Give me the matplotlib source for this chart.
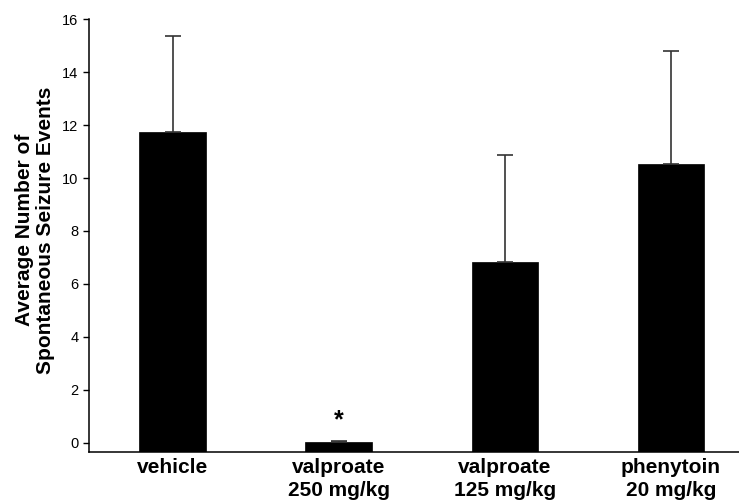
import matplotlib
matplotlib.use("Agg")
import matplotlib.pyplot as plt
import numpy as np

plt.rcParams['font.family'] = ['Liberation Sans', 'DejaVu Sans']

# data
groups = ["vehicle", "valproate\n250 mg/kg", "valproate\n125 mg/kg", "phenytoin\n20 mg/kg"]
means = [11.72, 0.02, 6.82, 10.51]
sem = [3.64, 0.04, 4.05, 4.29]
marks = ["", "*", "", ""]

fig = plt.figure(figsize=(7.39, 5.03), dpi=100)
ax = fig.add_axes([0.1204, 0.1014, 0.8796, 0.8608])

x = np.arange(len(groups))
ybot = -0.34
heights = [m - ybot for m in means]
ax.bar(x, heights, bottom=ybot, width=0.4, color="black", edgecolor="black", linewidth=0.5)
ax.errorbar(x, means, yerr=[np.zeros(len(sem)), sem], fmt="none", ecolor="#333333",
            elinewidth=1.2, capsize=5.8, capthick=1.2)

for xi, m, s, t in zip(x, means, sem, marks):
    if t:
        ax.text(xi, m + s + 0.78, t, ha="center", va="center", fontsize=18, fontweight="bold")

ax.set_xlim(-0.503, 3.41)
ax.set_ylim(ybot, 16)
ax.set_yticks(np.arange(0, 17, 2))
ax.set_xticks(x)
ax.set_xticklabels(groups, fontsize=15, fontweight="bold", linespacing=1.32)
ax.tick_params(axis="x", length=0, pad=4)
ax.tick_params(axis="y", labelsize=10.5, length=4.5, width=1, direction="out", pad=3)

for sp in ["top", "right"]:
    ax.spines[sp].set_visible(False)
for sp in ["left", "bottom"]:
    ax.spines[sp].set_linewidth(1.1)

ax.set_ylabel("Average Number of\nSpontaneous Seizure Events", fontsize=15, fontweight="bold",
              linespacing=1.15)
ax.yaxis.set_label_coords(-0.052, 0.513)

plt.savefig("out.png", dpi=100)
